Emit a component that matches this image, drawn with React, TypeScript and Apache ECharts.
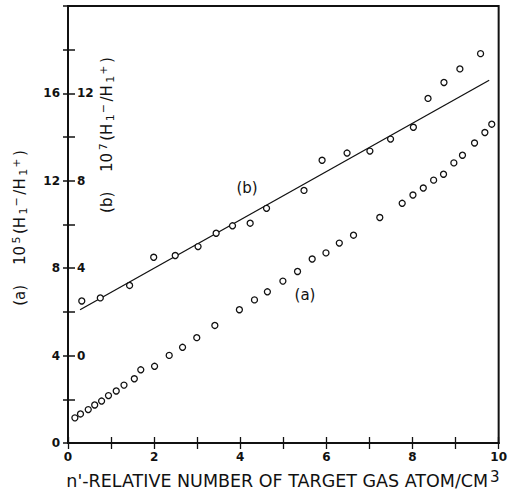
import React, { useEffect, useRef } from "react";
import * as echarts from "echarts";

// Series (a): 10^5 (H1-/H1+) vs n'
const A_X = [0.16, 0.29, 0.47, 0.62, 0.78, 0.94, 1.12, 1.3, 1.54, 1.69, 2.01, 2.35, 2.66, 2.99, 3.41, 3.98, 4.33, 4.63, 4.99, 5.33, 5.67, 5.99, 6.3, 6.63, 7.24, 7.76, 8.01, 8.25, 8.49, 8.72, 8.96, 9.16, 9.44, 9.68, 9.84];
const A_Y = [1.15, 1.33, 1.53, 1.74, 1.92, 2.17, 2.38, 2.65, 2.94, 3.35, 3.51, 4.01, 4.38, 4.82, 5.38, 6.1, 6.55, 6.92, 7.41, 7.85, 8.42, 8.7, 9.15, 9.51, 10.32, 10.97, 11.35, 11.67, 12.03, 12.3, 12.82, 13.17, 13.73, 14.21, 14.59];

// Series (b): 10^7 (H1-/H1+) vs n' (in its own units; its scale is shifted by B_OFFSET)
const B_OFFSET = 4;
const B_X = [0.32, 0.75, 1.43, 1.99, 2.49, 3.02, 3.44, 3.82, 4.23, 4.61, 5.48, 5.9, 6.48, 7.01, 7.49, 8.02, 8.36, 8.73, 9.1, 9.58];
const B_Y = [2.5, 2.64, 3.21, 4.5, 4.58, 4.99, 5.6, 5.94, 6.06, 6.74, 7.56, 8.94, 9.27, 9.36, 9.91, 10.45, 11.77, 12.5, 13.12, 13.82];

// Fitted straight line through (b)
const FIT_X = [0.28, 9.78];
const FIT_Y = [2.1, 12.6];

// Axis ticks
const X_LABELS = [0, 2, 4, 6, 8, 10];
const Y_LABELS_A = [0, 4, 8, 12, 16];
const Y_LABELS_B = [0, 4, 8, 12];

const FONT = "DejaVu Sans";
const INK = "#111";

export default function App() {
  const ref = useRef<HTMLDivElement>(null);
  useEffect(() => {
    if (!ref.current) return;
    const chart = echarts.init(ref.current, undefined, { renderer: "svg" });
    const circle = {
      type: "scatter",
      symbol: "circle",
      symbolSize: 6,
      itemStyle: { color: "#fff", borderColor: INK, borderWidth: 1.3, opacity: 1 },
      z: 3,
    };
    const titleRich = {
      n: { fontSize: 15, fontFamily: FONT, fill: INK, lineHeight: 18, padding: [0, 1.5] },
      sp: { fontSize: 15, fontFamily: FONT, fill: INK, lineHeight: 18, padding: [0, 6] },
      sup: { fontSize: 11, fontFamily: FONT, fill: INK, lineHeight: 10, verticalAlign: "top", padding: [0, 1] },
      sub: { fontSize: 11, fontFamily: FONT, fill: INK, lineHeight: 10, verticalAlign: "bottom", padding: [0, 0, 0, 1] },
    };
    chart.setOption({
      animation: false,
      backgroundColor: "#fff",
      grid: { left: 68, right: 10, top: 6, bottom: 54, show: true, borderColor: INK, borderWidth: 2 },
      xAxis: [
        {
          type: "value",
          min: 0,
          max: 10,
          interval: 1,
          axisLine: { lineStyle: { color: INK, width: 2 } },
          axisTick: { inside: true, length: 6, lineStyle: { color: INK, width: 1.3 } },
          axisLabel: {
            color: INK,
            fontFamily: FONT,
            fontWeight: "bold",
            fontSize: 12,
            margin: 8,
            formatter: (v: number) => (X_LABELS.includes(v) ? String(v) : ""),
          },
          splitLine: { show: false },
        },
        {
          type: "value",
          position: "top",
          min: 0,
          max: 10,
          interval: 1,
          axisLine: { lineStyle: { color: INK, width: 2 } },
          axisTick: { inside: true, length: 6, lineStyle: { color: INK, width: 1.3 } },
          axisLabel: { show: false },
          splitLine: { show: false },
        },
      ],
      yAxis: [
        {
          type: "value",
          min: 0,
          max: 20,
          interval: 2,
          axisLine: { lineStyle: { color: INK, width: 2 } },
          axisTick: { inside: false, length: 5, lineStyle: { color: INK, width: 1.5 } },
          axisLabel: {
            color: INK,
            fontFamily: FONT,
            fontWeight: "bold",
            fontSize: 12,
            margin: 8,
            formatter: (v: number) => (Y_LABELS_A.includes(v) ? String(v) : ""),
          },
          splitLine: { show: false },
        },
        {
          type: "value",
          position: "left",
          min: 0,
          max: 20,
          interval: 2,
          axisLine: { show: false },
          axisTick: { inside: true, length: 7, lineStyle: { color: INK, width: 1.5 } },
          axisLabel: {
            inside: true,
            color: INK,
            fontFamily: FONT,
            fontWeight: "bold",
            fontSize: 12,
            margin: 9,
            formatter: (v: number) => (Y_LABELS_B.includes(v - B_OFFSET) ? String(v - B_OFFSET) : ""),
          },
          splitLine: { show: false },
        },
      ],
      series: [
        { ...circle, name: "(a)", data: A_X.map((x, i) => [x, A_Y[i]]) },
        { ...circle, name: "(b)", data: B_X.map((x, i) => [x, B_Y[i] + B_OFFSET]) },
        {
          type: "line",
          name: "fit (b)",
          data: FIT_X.map((x, i) => [x, FIT_Y[i] + B_OFFSET]),
          showSymbol: false,
          symbol: "none",
          lineStyle: { color: INK, width: 1.3 },
          z: 2,
        },
      ],
      graphic: [
        {
          type: "text",
          x: 20,
          y: 228,
          rotation: Math.PI / 2,
          style: {
            text: "{n|(a)}{sp| }{n|10}{sup|5}{n|(H}{sub|1}{sup|−}{n|/H}{sub|1}{sup|+}{n|)}",
            rich: titleRich,
            align: "center",
            verticalAlign: "middle",
          },
        },
        {
          type: "text",
          x: 107,
          y: 135,
          rotation: Math.PI / 2,
          style: {
            text: "{n|(b)}{sp| }{n|10}{sup|7}{n|(H}{sub|1}{sup|−}{n|/H}{sub|1}{sup|+}{n|)}",
            rich: titleRich,
            align: "center",
            verticalAlign: "middle",
          },
        },
        {
          type: "text",
          x: 247,
          y: 188,
          style: { text: "(b)", fontSize: 15, fontFamily: FONT, fill: INK, align: "center", verticalAlign: "middle" },
        },
        {
          type: "text",
          x: 305,
          y: 295,
          style: { text: "(a)", fontSize: 15, fontFamily: FONT, fill: INK, align: "center", verticalAlign: "middle" },
        },
        {
          type: "text",
          x: 283,
          y: 481,
          style: {
            text: "{n|n'-RELATIVE NUMBER OF TARGET GAS ATOM/CM}{sup|3}",
            rich: {
              n: { fontSize: 17.5, fontFamily: FONT, fill: INK, lineHeight: 24 },
              sup: { fontSize: 15, fontFamily: FONT, fill: INK, lineHeight: 12, verticalAlign: "top", padding: [0, 0, 0, 2] },
            },
            align: "center",
            verticalAlign: "middle",
          },
        },
      ],
    });
    return () => chart.dispose();
  }, []);
  return (
    <div
      ref={ref}
      style={{ position: "fixed", left: 0, top: 0, width: 510, height: 497, background: "#fff" }}
    />
  );
}
